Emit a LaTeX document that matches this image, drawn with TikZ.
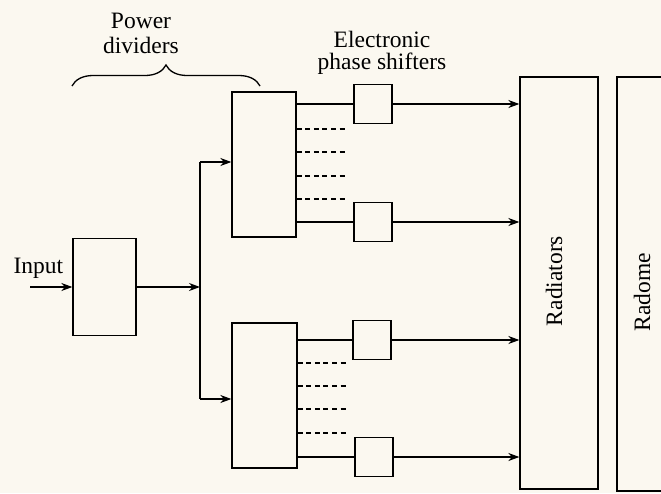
\documentclass[tikz,border=0pt]{standalone}
\usepackage{fontspec}
\setmainfont{Liberation Serif}
\usetikzlibrary{arrows.meta,decorations.pathreplacing}
\definecolor{paper}{RGB}{251,248,240}
\begin{document}
\begin{tikzpicture}[x=1pt,y=-1pt,
  every path/.style={line width=1.3pt},
  blk/.style={draw, line width=1.3pt, inner sep=0pt, rectangle},
  arr/.style={-{Stealth[length=11pt,width=8pt,inset=3.5pt]}},
  dline/.style={dash pattern=on 5pt off 3.6pt},
  lbl/.style={font=\fontsize{23.5}{27}\selectfont, inner sep=0pt}]
\fill[paper] (0,0) rectangle (661,493);
\useasboundingbox (0,0) rectangle (661,493);

% boxes
\node[blk, minimum width=63pt, minimum height=97pt] (inbox) at (104.5,287) {};
\node[blk, minimum width=64pt, minimum height=145pt] (pd1) at (264,164.5) {};
\node[blk, minimum width=65pt, minimum height=145pt] (pd2) at (264.5,395.5) {};
\node[blk, minimum width=38pt, minimum height=39pt] (ps1) at (373,104) {};
\node[blk, minimum width=38pt, minimum height=39pt] (ps2) at (373,222) {};
\node[blk, minimum width=38pt, minimum height=39pt] (ps3) at (372,340) {};
\node[blk, minimum width=38pt, minimum height=39pt] (ps4) at (374,457) {};
\node[blk, minimum width=78pt, minimum height=412pt] (rad) at (559,283) {};
\draw (661,77) -- (617,77) -- (617,491) -- (661,491);

% labels
\node[lbl, anchor=base] (power) at (141,28) {Power};
\node[lbl, anchor=base] (divs) at (141,53) {dividers};
\node[lbl, anchor=base] (elec) at (382,47) {Electronic};
\node[lbl, anchor=base] (phs) at (382,69) {phase shifters};
\node[lbl, anchor=base west] (inlbl) at (13,273) {Input};
\node[lbl, anchor=base, rotate=90] (radlbl) at (562,281) {Radiators};
\node[lbl, anchor=base, rotate=90] (radomelbl) at (650,292) {Radome};

% brace
\draw[decorate, decoration={brace, amplitude=21pt}] (72,86) -- (260,86);

% input side
\coordinate (inarr) at (30,287);
\coordinate (split) at (200,287);
\coordinate (jtop) at (200,162);
\coordinate (jbot) at (200,399);
\draw[arr] (inarr) -- (inbox.west |- inarr);
\draw[arr] (inbox.east |- split) -- (split);
\draw (jtop) -- (jbot);
\draw[arr] (jtop) -- (pd1.west |- jtop);
\draw[arr] (jbot) -- (pd2.west |- jbot);

% phase shifter paths
\draw (pd1.east |- ps1.west) -- (ps1.west);
\draw[arr] (ps1.east) -- (rad.west |- ps1.east);
\draw (pd1.east |- ps2.west) -- (ps2.west);
\draw[arr] (ps2.east) -- (rad.west |- ps2.east);
\draw (pd2.east |- ps3.west) -- (ps3.west);
\draw[arr] (ps3.east) -- (rad.west |- ps3.east);
\draw (pd2.east |- ps4.west) -- (ps4.west);
\draw[arr] (ps4.east) -- (rad.west |- ps4.east);

% dashed outputs
\foreach \yy in {129,152,176,199}
  \draw[dline] (pd1.east |- 0,\yy) -- ++(48,0);
\foreach \yy in {363,386,409,433}
  \draw[dline] (pd2.east |- 0,\yy) -- ++(48,0);
\end{tikzpicture}
\end{document}
